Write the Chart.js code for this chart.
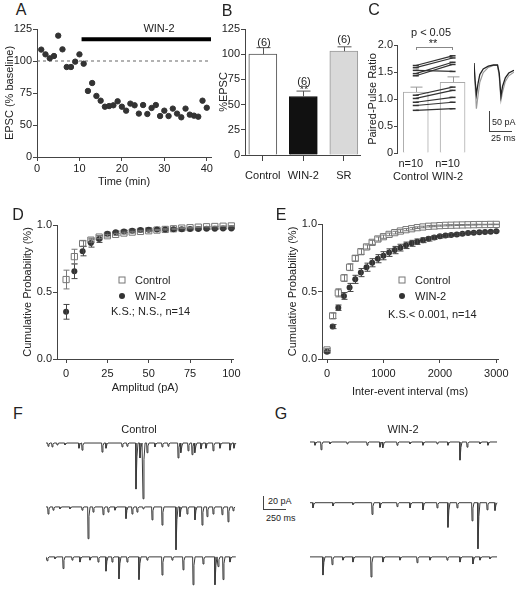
<!DOCTYPE html>
<html>
<head>
<meta charset="utf-8">
<script src="https://cdn.jsdelivr.net/npm/chart.js@4.4.1/dist/chart.umd.min.js"></script>
<style>
body { margin: 0; background: #fff; }
#fig { position: relative; width: 517px; height: 589px; overflow: hidden; font-family: "Liberation Sans", Arial, sans-serif; color: #222; }
canvas { position: absolute; }
.t { position: absolute; transform: translate(-50%, -50%); white-space: nowrap; line-height: 1; font-size: 11px; }
.l { position: absolute; transform: translate(0, -50%); white-space: nowrap; line-height: 1; font-size: 11px; }
.p { font-size: 16px; }
.s { font-size: 9px; }
.ln { position: absolute; background: #444; }
.sq { position: absolute; width: 5px; height: 5px; border: 1px solid #777; background: #fff; transform: translate(-50%, -50%); }
.dot { position: absolute; width: 6px; height: 6px; border-radius: 50%; background: #333; transform: translate(-50%, -50%); }
</style>
</head>
<body>
<div id="fig">
  <canvas id="cA" width="220" height="175" style="left:0;top:20px"></canvas>
  <canvas id="cB" width="150" height="175" style="left:215px;top:20px"></canvas>
  <canvas id="cC" width="120" height="170" style="left:355px;top:20px"></canvas>
  <canvas id="cInset" width="40" height="48" style="left:474px;top:63px"></canvas>
  <canvas id="cD" width="250" height="200" style="left:0;top:205px"></canvas>
  <canvas id="cE" width="262" height="200" style="left:255px;top:205px"></canvas>
  <canvas id="cF" width="191" height="157" style="left:46px;top:432px"></canvas>
  <canvas id="cG" width="191" height="157" style="left:310px;top:432px"></canvas>

  <div class="t p" style="left:21px;top:10px">A</div>
  <div class="t p" style="left:227px;top:11px">B</div>
  <div class="t p" style="left:374px;top:10px">C</div>
  <div class="t p" style="left:18px;top:215px">D</div>
  <div class="t p" style="left:281px;top:215px">E</div>
  <div class="t p" style="left:18px;top:414px">F</div>
  <div class="t p" style="left:281px;top:414px">G</div>

  <!-- A -->
  <div class="t" style="left:159px;top:28px">WIN-2</div>

  <!-- B -->
  <div class="t" style="left:264px;top:42px">(6)</div>
  <div class="t" style="left:304px;top:81px">(6)</div>
  <div class="t" style="left:304px;top:89px">**</div>
  <div class="t" style="left:344px;top:39px">(6)</div>

  <!-- C -->
  <div class="t" style="left:431px;top:32px">p &lt; 0.05</div>
  <div class="t" style="left:433px;top:43px">**</div>
  <div class="ln" style="left:416px;top:47px;width:37px;height:1px;background:#888"></div>
  <div class="ln" style="left:416px;top:47px;width:1px;height:3px;background:#888"></div>
  <div class="ln" style="left:452px;top:47px;width:1px;height:3px;background:#888"></div>
  <div class="ln" style="left:489px;top:111px;width:1px;height:20px"></div>
  <div class="ln" style="left:489px;top:131px;width:23px;height:1px"></div>
  <div class="l s" style="left:492px;top:122px">50 pA</div>
  <div class="l s" style="left:491px;top:138px">25 ms</div>

  <!-- D legend -->
  <div class="sq" style="left:122px;top:280px"></div>
  <div class="l" style="left:135px;top:280px">Control</div>
  <div class="dot" style="left:122px;top:296px"></div>
  <div class="l" style="left:135px;top:296px">WIN-2</div>
  <div class="l" style="left:111px;top:311px">K.S.; N.S., n=14</div>

  <!-- E legend -->
  <div class="sq" style="left:402px;top:280px"></div>
  <div class="l" style="left:415px;top:280px">Control</div>
  <div class="dot" style="left:402px;top:296px"></div>
  <div class="l" style="left:415px;top:296px">WIN-2</div>
  <div class="l" style="left:388px;top:314px">K.S.&lt; 0.001, n=14</div>

  <!-- F / G -->
  <div class="t" style="left:139px;top:429px">Control</div>
  <div class="t" style="left:403px;top:429px">WIN-2</div>
  <div class="ln" style="left:263px;top:496px;width:1px;height:13px"></div>
  <div class="ln" style="left:263px;top:509px;width:23px;height:1px"></div>
  <div class="l s" style="left:268px;top:501px">20 pA</div>
  <div class="l s" style="left:266px;top:518px">250 ms</div>
</div>

<script>
// A: EPSC time course
const aTime = [1, 2, 3, 4, 5, 6, 7, 8, 9, 10, 11, 12, 13, 14, 15, 16, 17, 18, 19, 20,
    21, 22, 23, 24, 25, 26, 27, 28, 29, 30, 31, 32, 33, 34, 35, 36, 37, 38, 39, 40];
const aEpsc = [108.9, 105.2, 102.1, 103.9, 119.8, 109.1, 95.3, 95.3, 99.5, 105.2,
    97.9, 76.6, 82.8, 72.7, 69.0, 64.3, 64.8, 65.4, 68.5, 64.3,
    61.2, 66.7, 65.4, 58.9, 65.6, 58.6, 63.3, 65.6, 57.0, 61.2,
    57.0, 62.8, 58.9, 56.0, 62.8, 58.1, 57.3, 56.5, 69.0, 63.5];
const aXTicks = [0, 10, 20, 30, 40];
const aYTicks = [25, 50, 75, 100, 125];
const aTickLabels = ['0', '50', '75', '100', '125'];
const winOn = 10.5, winOff = 41, winLevel = 117;

// B: %EPSC bars
const bCats = ['Control', 'WIN-2', 'SR'];
const bMean = [100, 58, 103];
const bSem = [6.5, 5.4, 4.3];
const bYTicks = [0, 25, 50, 75, 100, 125];

// C: paired-pulse ratio
const cCats = [['n=10', 'Control'], ['n=10', 'WIN-2']];
const cMean = [1.13, 1.31];
const cSem = [0.09, 0.10];
const cYTicks = [0, 0.5, 1, 1.5, 2];
const cTickLabels = ['0', '0.5', '1.0', '1.5', '2.0'];
const pprCtrl = [1.62, 1.58, 1.53, 1.47, 1.43, 1.07, 1.01, 0.94, 0.88, 0.79];
const pprWin = [1.80, 1.76, 1.51, 1.68, 1.64, 1.22, 1.16, 1.03, 0.94, 0.82];
const insetT = [0, 1.1, 2.5, 4.3, 6.1, 9.7, 15, 20.4, 24.7, 26.5, 28.3, 30, 32.9, 36.5, 41.9];
const insetWin = [0, -42, -79, -50, -29, -15, -8, -5, -5, -25, -83, -58, -37, -25, -18];
const insetCtrl = [0, -52, -114, -80, -48, -24, -11, -6, -6, -34, -93, -72, -46, -32, -23];

// D: amplitude cumulative
const dAmp = [0, 5, 10, 15, 20, 25, 30, 35, 40, 45, 50, 55, 60, 65, 70, 75, 80, 85, 90, 95, 100];
const dCtrl = [0.593, 0.764, 0.862, 0.887, 0.91, 0.92, 0.93, 0.94, 0.947, 0.952, 0.957,
    0.962, 0.967, 0.972, 0.977, 0.98, 0.984, 0.987, 0.989, 0.991, 0.993];
const dCtrlErr = [0.07, 0.055, 0.02, 0.015, 0.012, 0.01, 0.008, 0.007, 0.006, 0.005, 0.005,
    0.004, 0.004, 0.004, 0.003, 0.003, 0.003, 0.002, 0.002, 0.002, 0.002];
const dWin = [0.352, 0.655, 0.805, 0.865, 0.895, 0.935, 0.945, 0.952, 0.957, 0.962, 0.964,
    0.966, 0.967, 0.968, 0.969, 0.97, 0.971, 0.972, 0.972, 0.973, 0.974];
const dWinErr = [0.055, 0.055, 0.035, 0.03, 0.025, 0.012, 0.01, 0.008, 0.007, 0.006, 0.006,
    0.005, 0.005, 0.005, 0.005, 0.004, 0.004, 0.004, 0.004, 0.004, 0.004];
const dXTicks = [0, 25, 50, 75, 100];
const probTicks = [0, 0.5, 1];
const probLabels = ['0.0', '0.5', '1.0'];

// E: inter-event interval cumulative
const eIei = [0, 100, 200, 300, 400, 500, 600, 700, 800, 900, 1000, 1100, 1200, 1300, 1400, 1500,
    1600, 1700, 1800, 1900, 2000, 2100, 2200, 2300, 2400, 2500, 2600, 2700, 2800, 2900, 3000];
const eCtrl = [0.067, 0.32, 0.49, 0.60, 0.68, 0.746, 0.795, 0.83, 0.864, 0.889, 0.906, 0.923, 0.936,
    0.948, 0.958, 0.965, 0.973, 0.978, 0.983, 0.985, 0.988, 0.99, 0.991, 0.992, 0.993, 0.994,
    0.995, 0.996, 0.996, 0.997, 0.997];
const eCtrlErr = [0.01, 0.02, 0.03, 0.025, 0.025, 0.02, 0.02, 0.015, 0.015, 0.015, 0.012, 0.01, 0.01,
    0.01, 0.008, 0.008, 0.006, 0.006, 0.005, 0.005, 0.004, 0.004, 0.004, 0.003, 0.003, 0.003,
    0.003, 0.002, 0.002, 0.002, 0.002];
const eWin = [0.054, 0.24, 0.38, 0.467, 0.53, 0.59, 0.64, 0.68, 0.713, 0.743, 0.765, 0.788, 0.807,
    0.825, 0.842, 0.857, 0.869, 0.88, 0.89, 0.90, 0.909, 0.914, 0.919, 0.923, 0.928, 0.933,
    0.936, 0.938, 0.941, 0.943, 0.946];
const eWinErr = [0.01, 0.015, 0.02, 0.025, 0.03, 0.03, 0.03, 0.03, 0.03, 0.03, 0.03, 0.028, 0.027,
    0.025, 0.024, 0.022, 0.02, 0.018, 0.016, 0.015, 0.013, 0.012, 0.011, 0.01, 0.009, 0.008,
    0.007, 0.006, 0.006, 0.005, 0.005];
const eXTicks = [0, 1000, 2000, 3000];

// F / G: sample traces, events as [time ms, amplitude pA]
const fTrace1 = [[22, 5], [65, 6], [119, 3], [205, 3], [356, 8], [389, 11], [605, 14], [648, 8],
    [821, 6], [875, 5], [972, 71], [1015, 23], [1048, 86], [1091, 15], [1177, 6], [1253, 6],
    [1318, 5], [1426, 23], [1458, 15], [1534, 12], [1577, 18], [1609, 15], [1674, 9], [1728, 8],
    [1804, 12], [1879, 8], [1987, 11], [2030, 8]];
const fTrace2 = [[22, 11], [76, 5], [151, 3], [259, 3], [389, 5], [454, 49], [508, 8], [616, 12],
    [670, 8], [745, 5], [864, 18], [929, 11], [983, 8], [1048, 3], [1145, 20], [1253, 28],
    [1404, 66], [1447, 15], [1523, 11], [1609, 20], [1685, 28], [1739, 15], [1804, 11],
    [1901, 12], [1966, 23], [2020, 6]];
const fTrace3 = [[11, 6], [97, 3], [184, 18], [281, 5], [367, 8], [475, 5], [562, 8], [648, 22],
    [713, 8], [788, 34], [875, 8], [1004, 35], [1091, 5], [1253, 28], [1361, 5], [1480, 20],
    [1588, 43], [1696, 11], [1825, 43], [1858, 15], [1912, 35], [1987, 8]];
const gTrace1 = [[54, 5], [119, 12], [216, 3], [400, 3], [616, 5], [756, 8], [788, 9], [940, 5],
    [1080, 3], [1220, 5], [1372, 3], [1490, 5], [1620, 28], [1696, 8], [1836, 3], [1922, 5]];
const gTrace2 = [[32, 8], [248, 5], [464, 3], [670, 18], [756, 8], [940, 6], [1080, 8], [1220, 11],
    [1372, 8], [1490, 38], [1588, 8], [1750, 28], [1814, 71], [1912, 11], [1998, 12]];
const gTrace3 = [[140, 28], [238, 12], [356, 5], [464, 8], [659, 31], [788, 8], [972, 5], [1156, 9],
    [1296, 5], [1480, 5], [1620, 8], [1760, 11], [1836, 5], [1944, 3]];

Chart.defaults.font.family = '"Liberation Sans", Arial, sans-serif';
Chart.defaults.font.size = 11;
Chart.defaults.color = '#222';
Chart.defaults.animation = false;
Chart.defaults.responsive = false;
Chart.defaults.plugins.legend.display = false;
Chart.defaults.plugins.tooltip.enabled = false;

const axisCol = '#444';

// force axis box sizes so the plot areas land where the figure has them
function fit(size) {
    return function (s) {
        if (s.isHorizontal()) s.height = size; else s.width = size;
        s.paddingLeft = s.paddingRight = s.paddingTop = s.paddingBottom = 0;
    };
}

function scale(min, max, values, size, title, titlePad, labels) {
    return {
        type: 'linear', min: min, max: max, offset: false,
        afterFit: fit(size),
        afterBuildTicks: s => { s.ticks = values.map(v => ({ value: v })); },
        border: { color: axisCol },
        grid: { drawOnChartArea: false, color: axisCol, tickLength: 4, offset: false },
        ticks: {
            autoSkip: false, padding: 1, maxRotation: 0,
            callback: labels ? (v, i) => labels[i] : v => v
        },
        title: { display: !!title, text: title, padding: titlePad }
    };
}

const errorBars = {
    id: 'errorBars',
    afterDatasetsDraw(chart) {
        const ctx = chart.ctx;
        const ys = chart.scales.y;
        chart.data.datasets.forEach((ds, di) => {
            if (!ds.errors) return;
            const meta = chart.getDatasetMeta(di);
            ctx.save();
            ctx.strokeStyle = ds.errorColor || '#444';
            ctx.lineWidth = 1;
            meta.data.forEach((el, i) => {
                const e = ds.errors[i];
                if (!e) return;
                const v = ds.data[i].y;
                const x = Math.round(el.x) + 0.5;
                const top = ys.getPixelForValue(v + e);
                const bot = ds.upOnly ? ys.getPixelForValue(v) : ys.getPixelForValue(v - e);
                const w = ds.capWidth || 3;
                ctx.beginPath();
                ctx.moveTo(x, top); ctx.lineTo(x, bot);
                ctx.moveTo(x - w, top); ctx.lineTo(x + w, top);
                if (!ds.upOnly) { ctx.moveTo(x - w, bot); ctx.lineTo(x + w, bot); }
                ctx.stroke();
            });
            ctx.restore();
        });
    }
};

function pts(xs, ys) {
    return xs.map((x, i) => ({ x: x, y: ys[i] }));
}

// ---------- A ----------
new Chart(document.getElementById('cA'), {
    type: 'scatter',
    data: {
        datasets: [
            { data: pts(aTime, aEpsc), pointRadius: 2.7, pointBackgroundColor: '#333', pointBorderColor: '#333', clip: false },
            { data: [{ x: 0, y: 100 }, { x: winOff, y: 100 }], showLine: true, borderColor: '#666', borderWidth: 1, borderDash: [3, 3], pointRadius: 0 },
            { data: [{ x: winOn, y: winLevel }, { x: winOff, y: winLevel }], showLine: true, borderColor: '#000', borderWidth: 4, pointRadius: 0, clip: false }
        ]
    },
    options: {
        layout: { padding: { top: 9, right: 9, left: 0, bottom: 0 } },
        scales: {
            x: scale(0, 41, aXTicks, 38, 'Time (min)', { top: 0, bottom: 6 }),
            y: scale(25, 125, aYTicks, 37, 'EPSC (% baseline)', { top: 3, bottom: 0 }, aTickLabels)
        }
    }
});

// ---------- B ----------
const bx = scale(-0.44, 2.4, [0, 1, 2], 40, '', 0, bCats);
bx.grid.tickLength = 6;
bx.ticks.padding = 8;
new Chart(document.getElementById('cB'), {
    type: 'bar',
    data: {
        datasets: [{
            data: pts([0, 1, 2], bMean),
            backgroundColor: ['#fff', '#111', '#d9d9d9'],
            borderColor: ['#555', '#111', '#999'],
            borderWidth: 1,
            barThickness: 28,
            errors: bSem, upOnly: true, capWidth: 7, errorColor: '#555'
        }]
    },
    options: {
        layout: { padding: { top: 9, right: 5, left: 0, bottom: 0 } },
        scales: {
            x: bx,
            y: scale(0, 125, bYTicks, 30, '%EPSC', { top: 2, bottom: 0 })
        }
    },
    plugins: [errorBars]
});

// ---------- C ----------
const cx = scale(-0.51, 1.46, [0, 1], 37, '', 0, cCats);
cx.grid.display = false;
cx.border.display = false;
cx.ticks.padding = 0;
cx.ticks.labelOffset = -5;
const cy = scale(0, 2, cYTicks, 42, 'Paired-Pulse Ratio', { top: 11, bottom: 0 }, cTickLabels);
cy.grid.tickLength = 3;
const cSets = [{
    type: 'bar', order: 2,
    data: pts([0, 1], cMean),
    backgroundColor: '#fff', borderColor: '#aaa', borderWidth: 1, barThickness: 25,
    errors: cSem, upOnly: true, capWidth: 6, errorColor: '#999'
}];
pprCtrl.forEach((v, i) => {
    cSets.push({
        type: 'line', order: 1,
        data: [{ x: 0, y: v }, { x: 1, y: pprWin[i] }],
        borderColor: '#333', borderWidth: 1.2,
        pointStyle: 'line', pointRadius: 3, pointBorderColor: '#333', pointBorderWidth: 1.5,
        clip: false
    });
});
new Chart(document.getElementById('cC'), {
    type: 'bar',
    data: { datasets: cSets },
    options: {
        layout: { padding: { top: 25, right: 5, left: 0, bottom: 0 } },
        scales: { x: cx, y: cy }
    },
    plugins: [errorBars]
});

// inset sample PPR traces
new Chart(document.getElementById('cInset'), {
    type: 'scatter',
    data: {
        datasets: [
            { data: pts(insetT, insetWin), showLine: true, borderColor: '#222', borderWidth: 1.3, pointRadius: 0, clip: false },
            { data: pts(insetT, insetCtrl), showLine: true, borderColor: '#9a9a9a', borderWidth: 1.2, pointRadius: 0, clip: false }
        ]
    },
    options: {
        layout: { padding: 0 },
        scales: {
            x: { type: 'linear', min: 0, max: 42, display: false },
            y: { type: 'linear', min: -120, max: 0, display: false }
        }
    }
});

// ---------- D / E ----------
function cumChart(id, xs, ctrl, ctrlErr, win, winErr, x, y, pad) {
    return new Chart(document.getElementById(id), {
        type: 'scatter',
        data: {
            datasets: [
                { data: pts(xs, win), order: 1, pointStyle: 'circle', pointRadius: 3, pointBorderWidth: 0, pointBackgroundColor: '#333', clip: false,
                  errors: winErr, capWidth: 3, errorColor: '#444' },
                { data: pts(xs, ctrl), order: 2, pointStyle: 'rect', pointRadius: 4.4, pointBackgroundColor: '#fff', pointBorderColor: '#777', pointBorderWidth: 1, clip: false,
                  errors: ctrlErr, capWidth: 3, errorColor: '#777' }
            ]
        },
        options: { layout: { padding: pad }, scales: { x: x, y: y } },
        plugins: [errorBars]
    });
}
const dx = scale(-5.5, 101, dXTicks, 46, 'Amplitud (pA)', { top: 0, bottom: 10 });
dx.ticks.padding = 4;
cumChart('cD', dAmp, dCtrl, dCtrlErr, dWin, dWinErr, dx,
    scale(0, 1, probTicks, 57, 'Cumulative Probability (%)', { top: 21, bottom: 0 }, probLabels),
    { top: 20, right: 17, left: 0, bottom: 0 });

const ex = scale(-89, 3030, eXTicks, 46, 'Inter-event interval (ms)', { top: 0, bottom: 6 });
ex.ticks.padding = 4;
cumChart('cE', eIei, eCtrl, eCtrlErr, eWin, eWinErr, ex,
    scale(0, 1, probTicks, 67, 'Cumulative Probability (%)', { top: 31, bottom: 0 }, probLabels),
    { top: 19, right: 19, left: 0, bottom: 0 });

// ---------- F / G ----------
function trace(events, base, len) {
    const out = [{ x: 0, y: base }];
    events.forEach(([t, a]) => {
        out.push({ x: t - 4, y: base }, { x: t, y: base - a }, { x: t + 10, y: base - a * 0.3 }, { x: t + 22, y: base });
    });
    out.push({ x: len, y: base });
    return out;
}
function traceChart(id, rows, bases, len) {
    return new Chart(document.getElementById(id), {
        type: 'scatter',
        data: {
            datasets: rows.map((r, i) => ({
                data: trace(r, bases[i], len), showLine: true, borderColor: '#3a3a3a',
                borderWidth: 1, pointRadius: 0, clip: false
            }))
        },
        options: {
            layout: { padding: 0 },
            scales: {
                x: { type: 'linear', min: 0, max: 2063, display: false },
                y: { type: 'linear', min: -242, max: 0, display: false }
            }
        }
    });
}
traceChart('cF', [fTrace1, fTrace2, fTrace3], [-17, -115.5, -192.5], 2050);
traceChart('cG', [gTrace1, gTrace2, gTrace3], [-15.4, -109, -192.5], 2020);
</script>
</body>
</html>
